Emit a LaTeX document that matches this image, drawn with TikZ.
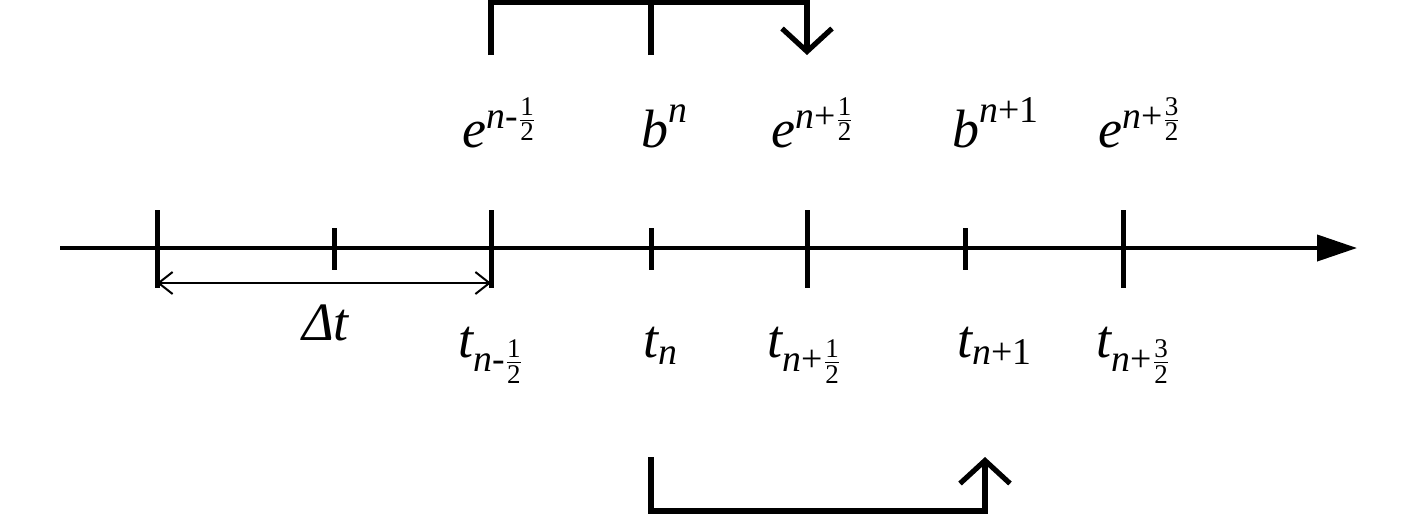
\documentclass[tikz,border=0pt]{standalone}
\usepackage{amsmath}
\usepackage{fontspec}
\setmainfont{Liberation Serif}[ItalicFont={Liberation Serif Italic},BoldFont={Liberation Serif Bold}]
\usetikzlibrary{arrows.meta}
\newcommand{\vi}[1]{\text{\itshape #1}}
\newcommand{\hf}[1]{\frac{\text{#1}}{\text{2}}}
\tikzset{
  axisline/.style={line width=2pt,-{Triangle[length=20pt,width=13pt]}},
  longtick/.style={line width=2.5pt},
  shorttick/.style={line width=2.5pt},
  bracket/.style={line width=2.6pt,line join=miter},
  barb/.style={-{Straight Barb[length=11.5pt,width=25pt]}},
  dimline/.style={line width=1pt,{Straight Barb[length=7pt,width=11pt]}-{Straight Barb[length=7pt,width=11pt]}},
  lab/.style={anchor=base,inner sep=0pt,font=\fontsize{27}{32}\selectfont}
}
\begin{document}
\begin{tikzpicture}[x=0.5pt,y=-0.5pt]
\useasboundingbox (0,0) rectangle (1417,515);
% axis
\coordinate (axL) at (60,248);
\coordinate (axR) at (1357,248);
\draw[axisline] (axL) -- (axR);
% long ticks
\foreach \n/\x in {a/157,b/491,c/807,d/1123}{
  \coordinate (L\n t) at (\x,210);
  \coordinate (L\n b) at (\x,288);
  \draw[longtick] (L\n t) -- (L\n b);
}
% short ticks
\foreach \n/\x in {a/334,b/651,c/965}{
  \coordinate (S\n t) at (\x,228);
  \coordinate (S\n b) at (\x,270);
  \draw[shorttick] (S\n t) -- (S\n b);
}
% delta t dimension
\coordinate (dL) at (157,283);
\coordinate (dR) at (491,283);
\draw[dimline] (dL) -- (dR);
\node[lab] (dt) at (326,340) {\textit{Δt}};
% top bracket
\coordinate (topy) at (0,2.5);
\coordinate (ta) at (491,55);
\coordinate (tb) at (651,55);
\coordinate (tc) at (807,55);
\draw[bracket,barb] (ta) -- (ta|-topy) -| (tc);
\draw[bracket] (tb) -- (tb|-topy);
% bottom bracket
\coordinate (boty) at (0,511);
\coordinate (ba) at (651,457);
\coordinate (bc) at (985,457);
\draw[bracket,barb] (ba) -- (ba|-boty) -| (bc);
% top labels
\node[lab] (e1) at (500,147) {$\vi{e}^{\vi{n}\text{-}\hf{1}}$};
\node[lab] (b1) at (665,147) {$\vi{b}^{\vi{n}}$};
\node[lab] (e2) at (813,147) {$\vi{e}^{\vi{n}\text{+}\hf{1}}$};
\node[lab] (b2) at (996,147) {$\vi{b}^{\vi{n}\text{+1}}$};
\node[lab] (e3) at (1140,147) {$\vi{e}^{\vi{n}\text{+}\hf{3}}$};
% bottom labels
\node[lab] (t1) at (491,357) {$\vi{t}_{\vi{n}\text{-}\hf{1}}$};
\node[lab] (t2) at (661,357) {$\vi{t}_{\vi{n}}$};
\node[lab] (t3) at (805,357) {$\vi{t}_{\vi{n}\text{+}\hf{1}}$};
\node[lab] (t4) at (995,357) {$\vi{t}_{\vi{n}\text{+1}}$};
\node[lab] (t5) at (1134,357) {$\vi{t}_{\vi{n}\text{+}\hf{3}}$};
\end{tikzpicture}
\end{document}
